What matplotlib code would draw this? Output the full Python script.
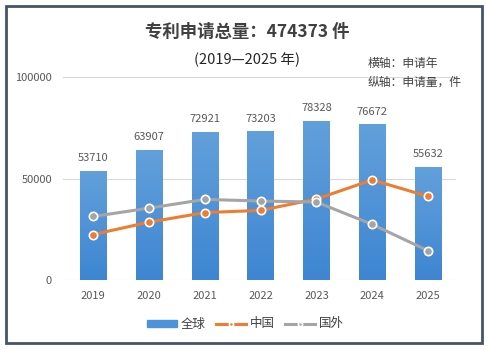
import numpy as np
import matplotlib.pyplot as plt
from matplotlib.patches import Rectangle
from matplotlib.colors import LinearSegmentedColormap

plt.rcParams['font.family'] = ['Noto Sans CJK SC', 'DejaVu Sans']

years = ['2019', '2020', '2021', '2022', '2023', '2024', '2025']
global_apps = [53710, 63907, 72921, 73203, 78328, 76672, 55632]
china_apps = [22400, 28500, 33200, 34300, 39900, 49300, 41200]
foreign_apps = [31300, 35400, 39700, 38900, 38400, 27400, 14400]

fig = plt.figure(figsize=(4.88, 3.5), dpi=100)
ax = fig.add_axes([63 / 488, 1 - 280 / 350, (456 - 63) / 488, (280 - 77) / 350])

x = range(len(years))
bar_w = 0.47
bars = ax.bar(x, global_apps, width=bar_w, color='#4d93d9', label='全球', zorder=2)

# light-to-dark vertical gradient on the bars
grad = LinearSegmentedColormap.from_list('g', ['#3e86d2', '#62a0db'])
for b in bars:
    b.set_facecolor('none')
    x0, h = b.get_x(), b.get_height()
    im = ax.imshow(np.linspace(0, 1, 64).reshape(-1, 1), cmap=grad, origin='lower',
                   extent=(x0, x0 + bar_w, 0, h), aspect='auto', zorder=2)
    im.set_clip_path(b)

ax.plot(x, china_apps, color='#ed7d31', lw=2.2, marker='o', markersize=6,
        markerfacecolor='#ed7d31', markeredgecolor='white', markeredgewidth=1.2,
        label='中国', zorder=3)
ax.plot(x, foreign_apps, color='#a5a5a5', lw=2.2, marker='o', markersize=6,
        markerfacecolor='#a5a5a5', markeredgecolor='white', markeredgewidth=1.2,
        label='国外', zorder=3)

for xi, v in zip(x, global_apps):
    ax.text(xi, v + 6300, str(v), ha='center', va='center', fontsize=8, color='#595959')

ax.set_ylim(0, 100000)
ax.set_xlim(-0.54, 6.5)
ax.set_yticks([0, 50000, 100000])
ax.set_yticklabels(['0', '50000', '100000'])
ax.set_xticks(list(x))
ax.set_xticklabels(years)
ax.tick_params(length=0, labelsize=8, colors='#595959', pad=8)
ax.yaxis.grid(True, color='#d9d9d9', lw=0.8, zorder=0)
for s in ax.spines.values():
    s.set_visible(False)

fig.text(0.506, 1 - 32 / 350, '专利申请总量：474373 件', ha='center', va='center',
         fontsize=12.5, fontweight='bold', color='#404040')
fig.text(0.506, 1 - 60 / 350, '(2019—2025 年)', ha='center', va='center',
         fontsize=10.5, color='#262626')
fig.text(368 / 488, 1 - 63 / 350, '横轴：申请年', ha='left', va='center',
         fontsize=8.5, color='#404040')
fig.text(368 / 488, 1 - 82 / 350, '纵轴：申请量，件', ha='left', va='center',
         fontsize=8.5, color='#404040')

handles, labels = ax.get_legend_handles_labels()
order = [labels.index(l) for l in ['全球', '中国', '国外']]
bar_handle = Rectangle((0, 0), 1, 1, color='#4d93d9')
hs = [bar_handle if labels[i] == '全球' else handles[i] for i in order]
fig.legend(hs, [labels[i] for i in order], loc='center',
           bbox_to_anchor=(0.503, 1 - 324 / 350), ncol=3, frameon=False,
           fontsize=9, handlelength=2.4, handleheight=0.5, columnspacing=0.8,
           handletextpad=0.3, markerscale=0.5, labelcolor='#404040')

fig.patches.append(Rectangle((6 / 488, 1 - 343 / 350), 476 / 488, 337 / 350,
                             transform=fig.transFigure, fill=False,
                             edgecolor='#44546a', lw=2))

fig.savefig('out.png', dpi=100)
